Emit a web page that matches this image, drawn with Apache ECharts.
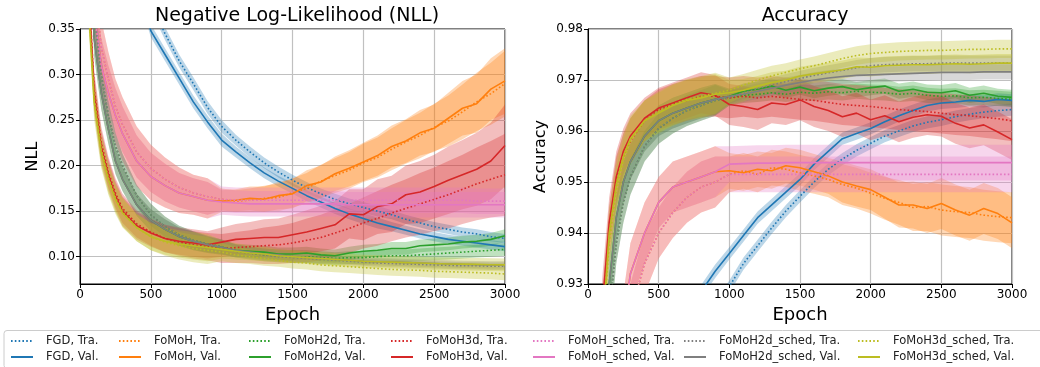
<!DOCTYPE html>
<html>
<head>
<meta charset="utf-8">
<script src="https://cdn.jsdelivr.net/npm/echarts@6/dist/echarts.min.js"></script>
<style>
  html, body { margin: 0; padding: 0; background: #fff; }
  #chart { width: 1040px; height: 367px; }
</style>
</head>
<body>
<div id="chart"></div>
<script>
var EPOCHS = [0, 50, 100, 150, 200, 250, 300, 400, 500, 600, 700, 800, 900,
  1000, 1100, 1200, 1300, 1400, 1500, 1600, 1700, 1800, 1900, 2000,
  2100, 2200, 2300, 2400, 2500, 2600, 2700, 2800, 2900, 3000];

var NLL_TICKS = [0.10, 0.15, 0.20, 0.25, 0.30, 0.35];
var ACC_TICKS = [0.93, 0.94, 0.95, 0.96, 0.97, 0.98];

// ---- NLL ----
var nllFgdTra = [2.30, 1.50, 1.10, 0.88, 0.73, 0.62, 0.54, 0.44, 0.378, 0.345, 0.315, 0.290, 0.264,
  0.243, 0.228, 0.215, 0.203, 0.193, 0.184, 0.176, 0.169, 0.163, 0.158, 0.154, 0.150, 0.146, 0.141, 0.137, 0.133, 0.130, 0.127, 0.125, 0.122, 0.120];
var nllFgdVal = [2.30, 1.40, 1.00, 0.80, 0.66, 0.56, 0.49, 0.40, 0.348, 0.322, 0.296, 0.270, 0.248,
  0.228, 0.215, 0.203, 0.192, 0.183, 0.175, 0.167, 0.160, 0.153, 0.147, 0.142, 0.137, 0.133, 0.129, 0.125, 0.122, 0.119, 0.117, 0.115, 0.113, 0.111];
var nllFgdStd = [0.02, 0.02, 0.015, 0.012, 0.01, 0.009, 0.008, 0.007, 0.007, 0.007, 0.007, 0.007, 0.007,
  0.007, 0.006, 0.006, 0.006, 0.006, 0.006, 0.006, 0.006, 0.006, 0.006, 0.006, 0.006, 0.005, 0.005, 0.005, 0.005, 0.005, 0.005, 0.005, 0.005, 0.005];

var nllFomohTra = [2.30, 0.65, 0.40, 0.33, 0.295, 0.265, 0.245, 0.215, 0.197, 0.185, 0.176, 0.170, 0.166,
  0.163, 0.161, 0.162, 0.164, 0.165, 0.170, 0.175, 0.183, 0.189, 0.195, 0.203, 0.209, 0.218, 0.226, 0.233, 0.242, 0.249, 0.259, 0.270, 0.279, 0.290];
var nllFomohVal = [2.30, 0.60, 0.37, 0.31, 0.28, 0.255, 0.235, 0.205, 0.188, 0.178, 0.170, 0.166, 0.162,
  0.161, 0.162, 0.164, 0.163, 0.167, 0.169, 0.178, 0.182, 0.191, 0.197, 0.204, 0.211, 0.221, 0.227, 0.236, 0.241, 0.252, 0.263, 0.268, 0.284, 0.293];
var nllFomohStd = [0.03, 0.03, 0.03, 0.03, 0.03, 0.03, 0.03, 0.028, 0.026, 0.024, 0.022, 0.02, 0.02,
  0.012, 0.012, 0.013, 0.014, 0.015, 0.016, 0.017, 0.018, 0.019, 0.02, 0.021, 0.022, 0.023, 0.024, 0.025, 0.026, 0.028, 0.03, 0.032, 0.034, 0.036];

var nllFomoh2dTra = [2.30, 0.60, 0.37, 0.30, 0.255, 0.222, 0.200, 0.167, 0.146, 0.133, 0.124, 0.118, 0.114,
  0.111, 0.106, 0.104, 0.102, 0.101, 0.100, 0.100, 0.099, 0.098, 0.099, 0.099, 0.100, 0.101, 0.101, 0.102, 0.103, 0.104, 0.105, 0.106, 0.107, 0.108];
var nllFomoh2dVal = [2.30, 0.55, 0.34, 0.28, 0.24, 0.205, 0.185, 0.157, 0.140, 0.130, 0.122, 0.117, 0.113,
  0.110, 0.107, 0.106, 0.105, 0.103, 0.103, 0.104, 0.102, 0.101, 0.104, 0.106, 0.107, 0.109, 0.109, 0.112, 0.113, 0.114, 0.116, 0.117, 0.119, 0.123];
var nllFomoh2dStd = [0.02, 0.02, 0.02, 0.018, 0.016, 0.014, 0.013, 0.012, 0.012, 0.011, 0.01, 0.01, 0.009,
  0.008, 0.007, 0.007, 0.007, 0.007, 0.007, 0.007, 0.007, 0.007, 0.007, 0.007, 0.007, 0.007, 0.007, 0.007, 0.007, 0.007, 0.007, 0.007, 0.007, 0.007];

var nllFomoh3dTra = [2.30, 0.43, 0.285, 0.225, 0.193, 0.170, 0.153, 0.136, 0.127, 0.120, 0.116, 0.113, 0.111,
  0.109, 0.110, 0.111, 0.112, 0.113, 0.115, 0.118, 0.121, 0.126, 0.131, 0.137, 0.142, 0.148, 0.153, 0.158, 0.163, 0.168, 0.174, 0.180, 0.185, 0.190];
var nllFomoh3dVal = [2.30, 0.42, 0.28, 0.22, 0.19, 0.167, 0.150, 0.134, 0.126, 0.120, 0.117, 0.115, 0.113,
  0.116, 0.119, 0.120, 0.121, 0.121, 0.124, 0.127, 0.131, 0.135, 0.147, 0.146, 0.155, 0.158, 0.168, 0.171, 0.177, 0.184, 0.190, 0.196, 0.205, 0.222];
var nllFomoh3dStd = [0.02, 0.02, 0.02, 0.018, 0.017, 0.016, 0.016, 0.015, 0.015, 0.015, 0.015, 0.015, 0.015,
  0.016, 0.017, 0.018, 0.02, 0.021, 0.022, 0.024, 0.025, 0.026, 0.027, 0.028, 0.03, 0.031, 0.032, 0.034, 0.035, 0.037, 0.038, 0.04, 0.042, 0.045];

var nllFomohSchedTra = [2.30, 0.65, 0.40, 0.33, 0.295, 0.265, 0.245, 0.215, 0.197, 0.185, 0.176, 0.170, 0.166,
  0.163, 0.162, 0.162, 0.162, 0.162, 0.162, 0.162, 0.162, 0.162, 0.162, 0.162, 0.162, 0.162, 0.162, 0.162, 0.162, 0.162, 0.162, 0.161, 0.161, 0.161];
var nllFomohSchedVal = [2.30, 0.60, 0.37, 0.31, 0.28, 0.255, 0.235, 0.205, 0.188, 0.178, 0.170, 0.166, 0.162,
  0.160, 0.159, 0.158, 0.158, 0.158, 0.158, 0.158, 0.158, 0.158, 0.157, 0.157, 0.157, 0.157, 0.157, 0.157, 0.157, 0.157, 0.157, 0.157, 0.157, 0.157];
var nllFomohSchedStd = [0.03, 0.03, 0.03, 0.03, 0.03, 0.03, 0.03, 0.028, 0.026, 0.024, 0.022, 0.02, 0.02,
  0.014, 0.014, 0.014, 0.014, 0.014, 0.014, 0.014, 0.014, 0.014, 0.014, 0.014, 0.014, 0.014, 0.014, 0.014, 0.014, 0.014, 0.014, 0.014, 0.014, 0.014];

var nllFomoh2dSchedTra = [2.30, 0.60, 0.37, 0.30, 0.255, 0.222, 0.200, 0.167, 0.146, 0.133, 0.124, 0.118, 0.114,
  0.111, 0.106, 0.104, 0.102, 0.100, 0.099, 0.098, 0.097, 0.096, 0.095, 0.094, 0.093, 0.0925, 0.092, 0.0915, 0.091, 0.0905, 0.090, 0.090, 0.0895, 0.0895];
var nllFomoh2dSchedVal = [2.30, 0.55, 0.34, 0.28, 0.24, 0.205, 0.185, 0.157, 0.140, 0.130, 0.122, 0.117, 0.113,
  0.110, 0.107, 0.105, 0.103, 0.102, 0.100, 0.099, 0.098, 0.097, 0.096, 0.095, 0.0945, 0.094, 0.0935, 0.093, 0.0925, 0.092, 0.0915, 0.0912, 0.091, 0.091];
var nllFomoh2dSchedStd = [0.02, 0.02, 0.02, 0.018, 0.016, 0.014, 0.013, 0.012, 0.012, 0.011, 0.01, 0.01, 0.009,
  0.008, 0.007, 0.006, 0.006, 0.005, 0.005, 0.005, 0.005, 0.004, 0.004, 0.004, 0.004, 0.004, 0.004, 0.004, 0.004, 0.004, 0.004, 0.004, 0.004, 0.004];

var nllFomoh3dSchedTra = [2.30, 0.41, 0.275, 0.218, 0.187, 0.165, 0.149, 0.132, 0.122, 0.116, 0.112, 0.109, 0.107,
  0.105, 0.102, 0.100, 0.098, 0.096, 0.094, 0.093, 0.091, 0.090, 0.089, 0.088, 0.087, 0.086, 0.0855, 0.085, 0.084, 0.0835, 0.083, 0.0825, 0.082, 0.081];
var nllFomoh3dSchedVal = [2.30, 0.40, 0.27, 0.215, 0.185, 0.163, 0.148, 0.132, 0.122, 0.117, 0.114, 0.112, 0.110,
  0.108, 0.106, 0.104, 0.103, 0.101, 0.100, 0.099, 0.098, 0.097, 0.096, 0.095, 0.0945, 0.094, 0.0935, 0.093, 0.0925, 0.092, 0.0918, 0.0915, 0.0912, 0.091];
var nllFomoh3dSchedStd = [0.02, 0.02, 0.02, 0.018, 0.017, 0.016, 0.016, 0.015, 0.015, 0.015, 0.015, 0.015, 0.015,
  0.01, 0.009, 0.008, 0.008, 0.007, 0.007, 0.007, 0.007, 0.007, 0.007, 0.007, 0.007, 0.007, 0.007, 0.007, 0.007, 0.007, 0.007, 0.007, 0.007, 0.007];

// ---- Accuracy ----
var accFgdTra = [0.10, 0.55, 0.72, 0.79, 0.83, 0.853, 0.868, 0.887, 0.899, 0.908, 0.915, 0.921, 0.9255,
  0.9295, 0.934, 0.9375, 0.941, 0.9443, 0.9472, 0.950, 0.9525, 0.9545, 0.9562, 0.9576, 0.959, 0.960, 0.961, 0.9617, 0.9622, 0.9628, 0.9633, 0.9637, 0.964, 0.9642];
var accFgdVal = [0.10, 0.60, 0.75, 0.81, 0.845, 0.865, 0.878, 0.896, 0.907, 0.916, 0.923, 0.9285, 0.9325,
  0.936, 0.9395, 0.943, 0.9455, 0.948, 0.9505, 0.9535, 0.956, 0.9585, 0.9595, 0.9605, 0.9618, 0.963, 0.964, 0.965, 0.9655, 0.9657, 0.966, 0.9658, 0.9662, 0.966];
var accFgdStd = [0.002, 0.002, 0.002, 0.002, 0.002, 0.002, 0.002, 0.0015, 0.0015, 0.0015, 0.0015, 0.0013, 0.0013,
  0.0012, 0.0012, 0.0012, 0.0012, 0.0012, 0.0012, 0.0012, 0.0012, 0.0012, 0.0012, 0.0012, 0.0012, 0.0012, 0.0012, 0.0012, 0.0012, 0.0012, 0.0012, 0.0012, 0.0012, 0.0012];

var accFomohTra = [0.10, 0.65, 0.82, 0.865, 0.893, 0.912, 0.924, 0.934, 0.940, 0.944, 0.947, 0.949, 0.950,
  0.9515, 0.9522, 0.9515, 0.9528, 0.9525, 0.9518, 0.9512, 0.9505, 0.9495, 0.9488, 0.9478, 0.9468, 0.946, 0.945, 0.9452, 0.9445, 0.9442, 0.944, 0.9435, 0.9432, 0.943];
var accFomohVal = [0.10, 0.70, 0.84, 0.88, 0.905, 0.922, 0.932, 0.940, 0.946, 0.949, 0.950, 0.951, 0.952,
  0.9522, 0.9518, 0.9525, 0.9522, 0.9532, 0.9528, 0.952, 0.9512, 0.950, 0.9492, 0.9485, 0.947, 0.9455, 0.9455, 0.9448, 0.9458, 0.9445, 0.9435, 0.9448, 0.9438, 0.942];
var accFomohStd = [0.01, 0.01, 0.008, 0.007, 0.006, 0.006, 0.006, 0.006, 0.005, 0.005, 0.005, 0.005, 0.005,
  0.0035, 0.0035, 0.0035, 0.0035, 0.0035, 0.0035, 0.0035, 0.0035, 0.004, 0.004, 0.004, 0.0042, 0.0044, 0.0046, 0.0048, 0.005, 0.005, 0.005, 0.005, 0.005, 0.005];

var accFomoh2dTra = [0.10, 0.72, 0.895, 0.924, 0.938, 0.946, 0.951, 0.957, 0.9605, 0.9625, 0.964, 0.965, 0.966,
  0.9665, 0.967, 0.9672, 0.9675, 0.9672, 0.9676, 0.9674, 0.9677, 0.9675, 0.9678, 0.9676, 0.9675, 0.9672, 0.9674, 0.967, 0.9668, 0.9669, 0.9665, 0.9666, 0.9664, 0.9662];
var accFomoh2dVal = [0.10, 0.75, 0.905, 0.93, 0.943, 0.950, 0.954, 0.959, 0.962, 0.9635, 0.9645, 0.9655, 0.9662,
  0.9668, 0.9678, 0.9682, 0.9688, 0.968, 0.9686, 0.9679, 0.9684, 0.9687, 0.9681, 0.9685, 0.9688, 0.9678, 0.9682, 0.9676, 0.9675, 0.9679, 0.967, 0.9674, 0.9668, 0.9666];
var accFomoh2dStd = [0.01, 0.01, 0.006, 0.005, 0.004, 0.004, 0.0035, 0.003, 0.003, 0.003, 0.003, 0.003, 0.003,
  0.0015, 0.0015, 0.0015, 0.0015, 0.0015, 0.0015, 0.0015, 0.0015, 0.0015, 0.0015, 0.0015, 0.0015, 0.0015, 0.0015, 0.0015, 0.0015, 0.0015, 0.0015, 0.0015, 0.0015, 0.0015];

var accFomoh3dTra = [0.10, 0.79, 0.922, 0.94, 0.95, 0.955, 0.958, 0.962, 0.9642, 0.9652, 0.966, 0.9668, 0.9668,
  0.9665, 0.9668, 0.9665, 0.9668, 0.9665, 0.9662, 0.966, 0.9656, 0.9652, 0.965, 0.9648, 0.9645, 0.9642, 0.964, 0.9638, 0.9635, 0.9632, 0.963, 0.9627, 0.9624, 0.962];
var accFomoh3dVal = [0.10, 0.80, 0.925, 0.942, 0.951, 0.956, 0.959, 0.9625, 0.9645, 0.9655, 0.9665, 0.9675, 0.967,
  0.9652, 0.9648, 0.9642, 0.9655, 0.9652, 0.9661, 0.9648, 0.964, 0.9628, 0.9635, 0.9622, 0.963, 0.9618, 0.9627, 0.9632, 0.9629, 0.9615, 0.9606, 0.9612, 0.9598, 0.9583];
var accFomoh3dStd = [0.01, 0.01, 0.006, 0.005, 0.005, 0.0045, 0.0045, 0.004, 0.004, 0.004, 0.004, 0.004, 0.004,
  0.004, 0.004, 0.004, 0.004, 0.004, 0.004, 0.004, 0.004, 0.004, 0.004, 0.004, 0.004, 0.004, 0.004, 0.004, 0.004, 0.004, 0.004, 0.004, 0.004, 0.004];

var accFomohSchedTra = [0.10, 0.65, 0.82, 0.865, 0.893, 0.912, 0.924, 0.934, 0.940, 0.944, 0.947, 0.949, 0.950,
  0.9515, 0.9515, 0.9515, 0.9515, 0.9515, 0.9515, 0.9515, 0.9515, 0.9515, 0.9515, 0.9515, 0.9515, 0.9515, 0.9515, 0.9515, 0.9515, 0.9515, 0.9515, 0.9515, 0.9515, 0.9515];
var accFomohSchedVal = [0.10, 0.70, 0.84, 0.88, 0.905, 0.922, 0.932, 0.940, 0.946, 0.949, 0.950, 0.951, 0.952,
  0.9535, 0.9536, 0.9537, 0.9537, 0.9538, 0.9538, 0.9538, 0.9538, 0.9538, 0.9538, 0.9538, 0.9538, 0.9538, 0.9538, 0.9538, 0.9538, 0.9538, 0.9538, 0.9538, 0.9538, 0.9538];
var accFomohSchedStd = [0.01, 0.01, 0.008, 0.007, 0.006, 0.006, 0.006, 0.006, 0.005, 0.005, 0.005, 0.005, 0.005,
  0.0035, 0.0035, 0.0035, 0.0035, 0.0035, 0.0035, 0.0035, 0.0035, 0.0035, 0.0035, 0.0035, 0.0035, 0.0035, 0.0035, 0.0035, 0.0035, 0.0035, 0.0035, 0.0035, 0.0035, 0.0035];

var accFomoh2dSchedTra = [0.10, 0.72, 0.895, 0.924, 0.938, 0.946, 0.951, 0.957, 0.9605, 0.9625, 0.964, 0.965, 0.966,
  0.9665, 0.9675, 0.9683, 0.969, 0.9697, 0.9703, 0.9709, 0.9714, 0.9719, 0.9724, 0.9728, 0.973, 0.9731, 0.9732, 0.9732, 0.9733, 0.9733, 0.9733, 0.9733, 0.9733, 0.9733];
var accFomoh2dSchedVal = [0.10, 0.75, 0.905, 0.93, 0.943, 0.950, 0.954, 0.959, 0.962, 0.9635, 0.9645, 0.9655, 0.9662,
  0.9668, 0.9672, 0.9678, 0.9684, 0.969, 0.9695, 0.970, 0.9704, 0.9707, 0.9709, 0.971, 0.9711, 0.9712, 0.9713, 0.9714, 0.9715, 0.9715, 0.9715, 0.9716, 0.9716, 0.9716];
var accFomoh2dSchedStd = [0.01, 0.01, 0.006, 0.005, 0.004, 0.004, 0.0035, 0.003, 0.003, 0.003, 0.003, 0.003, 0.003,
  0.0015, 0.0015, 0.0015, 0.0015, 0.0015, 0.0015, 0.0015, 0.0015, 0.0015, 0.0015, 0.0015, 0.0015, 0.0015, 0.0015, 0.0015, 0.0015, 0.0015, 0.0015, 0.0015, 0.0015, 0.0015];

var accFomoh3dSchedTra = [0.10, 0.78, 0.918, 0.938, 0.948, 0.954, 0.958, 0.962, 0.9638, 0.9652, 0.9662, 0.9668, 0.9674,
  0.968, 0.969, 0.970, 0.9708, 0.9715, 0.9722, 0.9728, 0.9735, 0.9742, 0.9748, 0.9752, 0.9754, 0.9756, 0.9757, 0.9758, 0.9758, 0.9759, 0.976, 0.976, 0.9761, 0.9761];
var accFomoh3dSchedVal = [0.10, 0.79, 0.92, 0.94, 0.9495, 0.955, 0.9585, 0.962, 0.9635, 0.965, 0.966, 0.9665, 0.9672,
  0.9675, 0.968, 0.9688, 0.9695, 0.970, 0.9708, 0.9712, 0.9716, 0.972, 0.9726, 0.9725, 0.9728, 0.9729, 0.973, 0.973, 0.9731, 0.9732, 0.9731, 0.9732, 0.9733, 0.9733];
var accFomoh3dSchedStd = [0.01, 0.01, 0.006, 0.005, 0.005, 0.0045, 0.0045, 0.004, 0.004, 0.004, 0.004, 0.004, 0.004,
  0.0025, 0.0022, 0.002, 0.002, 0.0018, 0.0018, 0.0018, 0.0018, 0.0018, 0.0018, 0.0018, 0.0018, 0.0018, 0.0018, 0.0018, 0.0018, 0.0018, 0.0018, 0.0018, 0.0018, 0.0018];

var METHODS = [
  { name: 'FGD', color: '#1f77b4', nll: [nllFgdTra, nllFgdVal, nllFgdStd], acc: [accFgdTra, accFgdVal, accFgdStd] },
  { name: 'FoMoH', color: '#ff7f0e', nll: [nllFomohTra, nllFomohVal, nllFomohStd], acc: [accFomohTra, accFomohVal, accFomohStd] },
  { name: 'FoMoH2d', color: '#2ca02c', nll: [nllFomoh2dTra, nllFomoh2dVal, nllFomoh2dStd], acc: [accFomoh2dTra, accFomoh2dVal, accFomoh2dStd] },
  { name: 'FoMoH3d', color: '#d62728', nll: [nllFomoh3dTra, nllFomoh3dVal, nllFomoh3dStd], acc: [accFomoh3dTra, accFomoh3dVal, accFomoh3dStd] },
  { name: 'FoMoH_sched', color: '#e377c2', nll: [nllFomohSchedTra, nllFomohSchedVal, nllFomohSchedStd], acc: [accFomohSchedTra, accFomohSchedVal, accFomohSchedStd] },
  { name: 'FoMoH2d_sched', color: '#7f7f7f', nll: [nllFomoh2dSchedTra, nllFomoh2dSchedVal, nllFomoh2dSchedStd], acc: [accFomoh2dSchedTra, accFomoh2dSchedVal, accFomoh2dSchedStd] },
  { name: 'FoMoH3d_sched', color: '#bcbd22', nll: [nllFomoh3dSchedTra, nllFomoh3dSchedVal, nllFomoh3dSchedStd], acc: [accFomoh3dSchedTra, accFomoh3dSchedVal, accFomoh3dSchedStd] }
];

// left edge of each legend column
var LEGEND_X = [10, 118, 248, 390, 532, 683, 857];

var FONT = 'DejaVu Sans';
var bands = [];
var lines = [];

function withAlpha(hex, a) {
  var n = parseInt(hex.slice(1), 16);
  return 'rgba(' + (n >> 16) + ',' + ((n >> 8) & 255) + ',' + (n & 255) + ',' + a + ')';
}

function addCurves(m, idx, key) {
  var tra = m[key][0], val = m[key][1], std = m[key][2];
  [['Tra.', tra, [1.6, 2.2]], ['Val.', val, 'solid']].forEach(function (s) {
    var label = m.name + ', ' + s[0];
    var rows = EPOCHS.map(function (e, i) { return [e, s[1][i] - std[i], s[1][i] + std[i]]; });
    // shaded +-std band, drawn as one polygon through the axis scales
    bands.push({
      type: 'custom', xAxisIndex: idx, yAxisIndex: idx, silent: true, z: 1,
      data: rows, encode: { x: 0, y: [1, 2] },
      renderItem: function (params, api) {
        if (params.dataIndex !== 0) return null;
        var up = rows.map(function (r) { return api.coord([r[0], r[2]]); });
        var lo = rows.map(function (r) { return api.coord([r[0], r[1]]); }).reverse();
        var cs = params.coordSys;
        return {
          type: 'polygon', shape: { points: up.concat(lo) },
          style: { fill: withAlpha(m.color, 0.3) },
          clipPath: { type: 'rect', shape: { x: cs.x, y: cs.y, width: cs.width, height: cs.height } }
        };
      }
    });
    lines.push({
      name: label, type: 'line', xAxisIndex: idx, yAxisIndex: idx,
      data: EPOCHS.map(function (e, i) { return [e, s[1][i]]; }),
      symbol: 'none', z: 3,
      lineStyle: { color: m.color, width: 1.6, type: s[2], cap: 'butt' },
      itemStyle: { color: m.color }
    });
  });
}

METHODS.forEach(function (m) { addCurves(m, 0, 'nll'); });
METHODS.forEach(function (m) { addCurves(m, 1, 'acc'); });

function xAxisCfg(idx) {
  return {
    type: 'value', gridIndex: idx, min: 0, max: 3000, interval: 500,
    name: 'Epoch', nameLocation: 'middle', nameGap: 22,
    nameTextStyle: { fontFamily: FONT, fontSize: 18, color: '#000' },
    axisLine: { show: true, onZero: false, lineStyle: { color: '#000', width: 1 } },
    axisTick: { show: true, length: 4, lineStyle: { color: '#000' } },
    axisLabel: { fontFamily: FONT, fontSize: 12, color: '#000', margin: 5,
      formatter: function (v) { return String(v); } },
    splitLine: { show: true, lineStyle: { color: '#c0c0c0', width: 1.2 } }
  };
}

function yAxisCfg(idx, name, min, max, ticks) {
  return {
    type: 'value', gridIndex: idx, min: min, max: max,
    name: name, nameLocation: 'middle', nameGap: 39, nameRotate: 90,
    nameTextStyle: { fontFamily: FONT, fontSize: 16, color: '#000' },
    axisLine: { show: true, lineStyle: { color: '#000', width: 1 } },
    axisTick: { show: true, length: 4, customValues: ticks, lineStyle: { color: '#000' } },
    axisLabel: {
      fontFamily: FONT, fontSize: 12, color: '#000', margin: 5, customValues: ticks,
      formatter: function (v) { return v.toFixed(2); }
    },
    splitLine: { show: true, lineStyle: { color: '#c0c0c0', width: 1.2 } }
  };
}

var legends = METHODS.map(function (m, i) {
  return {
    data: [m.name + ', Tra.', m.name + ', Val.'],
    orient: 'vertical', left: LEGEND_X[i], top: 334, height: 34,
    itemGap: 2, itemWidth: 22, itemHeight: 14,
    itemStyle: { color: 'rgba(0,0,0,0)', borderWidth: 0, opacity: 0 },
    textStyle: { fontFamily: FONT, fontSize: 11.5, color: '#222', lineHeight: 14, padding: [0, 0, 0, 8] },
    selectedMode: false, padding: 0
  };
});

var chart = echarts.init(document.getElementById('chart'), null, { renderer: 'canvas' });
chart.setOption({
  animation: false,
  backgroundColor: '#fff',
  title: [
    { text: 'Negative Log-Likelihood (NLL)', left: 292, top: 2, textAlign: 'center',
      textStyle: { fontFamily: FONT, fontSize: 19, fontWeight: 'normal', color: '#000' } },
    { text: 'Accuracy', left: 800, top: 2, textAlign: 'center',
      textStyle: { fontFamily: FONT, fontSize: 19, fontWeight: 'normal', color: '#000' } }
  ],
  grid: [
    { left: 80, right: 535, top: 29, bottom: 83, show: true, borderColor: '#000', borderWidth: 1 },
    { left: 588, right: 28, top: 29, bottom: 83, show: true, borderColor: '#000', borderWidth: 1 }
  ],
  xAxis: [xAxisCfg(0), xAxisCfg(1)],
  yAxis: [yAxisCfg(0, 'NLL', 0.07, 0.35, NLL_TICKS), yAxisCfg(1, 'Accuracy', 0.93, 0.98, ACC_TICKS)],
  legend: legends,
  graphic: [{
    type: 'rect', left: 3.5, top: 330, silent: true,
    shape: { width: 1050, height: 38, r: 3 },
    style: { fill: 'rgba(255,255,255,0.8)', stroke: '#cccccc', lineWidth: 1 },
    z: -1
  }],
  series: bands.concat(lines)
});
</script>
</body>
</html>
